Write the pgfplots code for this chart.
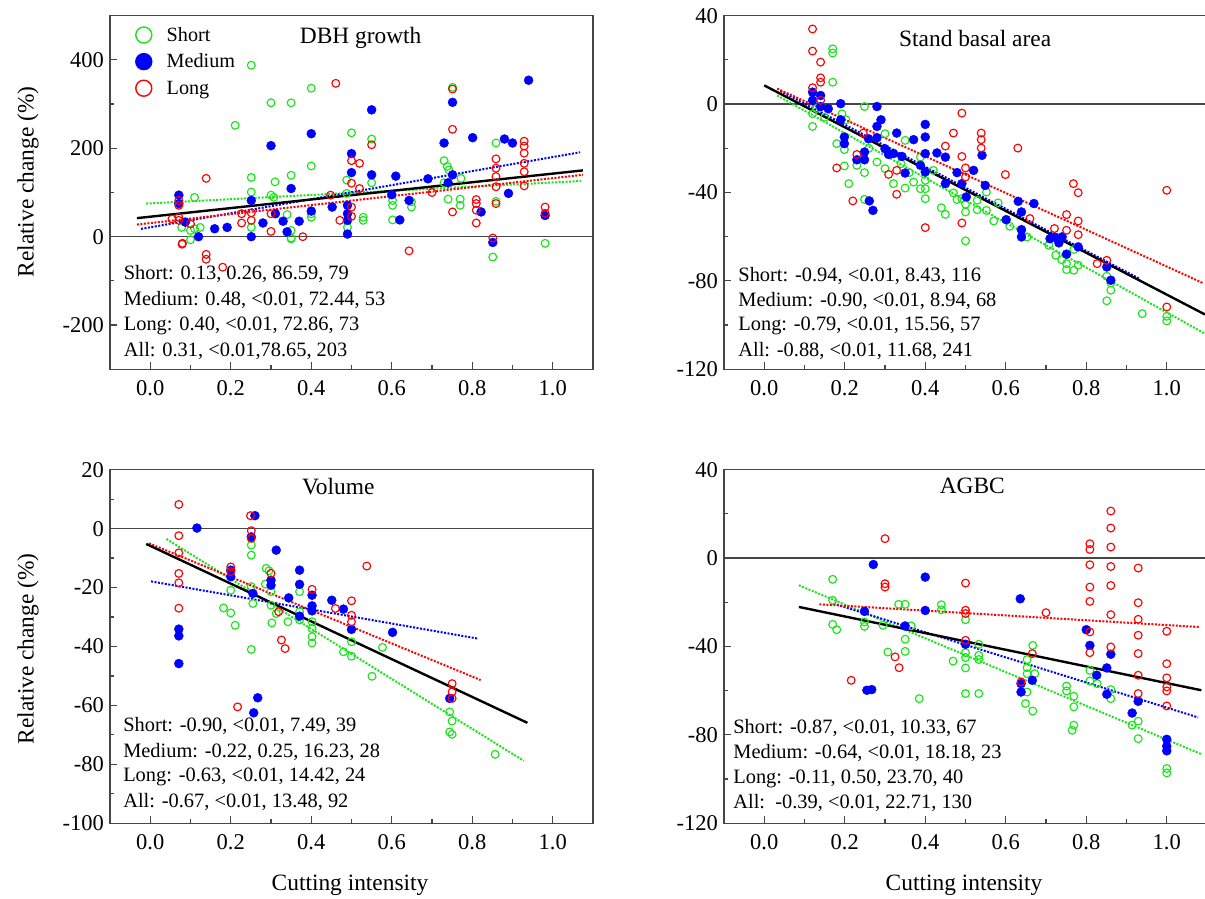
\documentclass[border=0pt]{standalone}
\usepackage{fontspec}
\setmainfont{Liberation Serif}
\usepackage{pgfplots}
\pgfplotsset{compat=1.18}
\definecolor{sg}{RGB}{25,230,25}
\definecolor{fr}{RGB}{70,70,70}
\newcommand{\tck}{\fontsize{22.5bp}{26bp}\selectfont}
\newcommand{\ann}{\fontsize{20.4bp}{24bp}\selectfont}
\newcommand{\ttl}{\fontsize{23.4bp}{27bp}\selectfont}
\newcommand{\lab}{\fontsize{23.4bp}{27bp}\selectfont}
\newcommand{\leg}{\fontsize{20.2bp}{24bp}\selectfont}
\pgfplotsset{
  panel/.style={
    scale only axis, width=483bp, height=353.6bp, anchor=south west,
    xmin=-0.1, xmax=1.1,
    xtick={0,0.2,0.4,0.6,0.8,1.0},
    xticklabels={0.0,0.2,0.4,0.6,0.8,1.0},
    minor x tick num=1, minor y tick num=1,
    tick pos=left, tick align=inside,
    major tick length=7bp, minor tick length=4bp,
    axis line style={line width=1.4bp, draw=fr},
    every tick/.style={line width=1.2bp, fr},
    tick label style={font=\tck},
    xticklabel style={yshift=-8bp},
    yticklabel style={xshift=-2.5bp},
    label style={font=\lab},
  },
  sh/.style={only marks, mark=o, mark size=3.9bp, color=sg, mark options={line width=1.15bp}},
  me/.style={only marks, mark=*, mark size=4.5bp, color=blue},
  lo/.style={only marks, mark=o, mark size=3.9bp, color=red, mark options={line width=1.15bp}},
  fsh/.style={forget plot, sg, line width=2bp, dash pattern=on 2bp off 1.5bp},
  fme/.style={forget plot, blue, line width=2bp, dash pattern=on 2bp off 1.5bp},
  flo/.style={forget plot, red, line width=2bp, dash pattern=on 2bp off 1.5bp},
  fall/.style={forget plot, black, line width=2.4bp},
  zl/.style={forget plot, fr, line width=1.4bp},
}
\begin{document}
\begin{tikzpicture}
\useasboundingbox (0,0) rectangle (1205bp,899bp);
% ---------------- DBH growth ----------------
\begin{axis}[panel, at={(110bp,529.7bp)},
  ymin=-300, ymax=500, ytick={-200,0,200,400}, yticklabels={-200,0,200,400},
  ylabel={Relative change (\%)},
  ylabel style={at={(axis description cs:-0.1698,0.5297)}, anchor=center},
  legend cell align=left,
  legend style={at={(axis description cs:0.0534,0.968)}, anchor=north west,
    draw=none, fill=none, inner sep=0pt, outer sep=0pt, row sep=10.6bp,
    column sep=14.9bp, font=\leg, nodes={inner sep=0pt}},
  legend image code/.code={\draw[#1, mark size=8bp, mark options={line width=1.4bp}] plot coordinates {(0bp,0bp)};},
]
\addplot[zl] coordinates {(-0.1,0) (1.1,0)};
\addplot[sh] coordinates {(0.251,388) (0.211,252) (0.300,303) (0.350,303) (0.400,336) (0.400,160) (0.251,134) (0.350,139) (0.310,124) (0.251,101) (0.110,89) (0.300,94) (0.307,89) (0.078,21) (0.100,14) (0.110,18) (0.251,21) (0.340,50) (0.350,14) (0.350,-5) (0.100,-7) (0.400,44) (0.400,52) (0.124,21) (0.500,235) (0.550,221) (0.550,122) (0.488,128) (0.488,98) (0.751,338) (0.730,172) (0.738,159) (0.742,151) (0.730,122) (0.772,132) (0.740,85) (0.770,85) (0.770,71) (0.602,82) (0.602,71) (0.649,79) (0.649,67) (0.529,44) (0.529,37) (0.602,38) (0.859,212) (0.859,80) (0.490,21) (0.981,-15) (0.851,-46) (0.350,-3)};
\addlegendentry{Short}
\addplot[me] coordinates {(0.071,94) (0.071,75) (0.087,33) (0.120,0) (0.160,18) (0.191,21) (0.251,82) (0.251,0) (0.280,31) (0.300,206) (0.311,52) (0.330,35) (0.340,11) (0.350,109) (0.370,35) (0.400,233) (0.400,58) (0.452,67) (0.500,188) (0.500,145) (0.490,71) (0.490,52) (0.490,37) (0.490,6) (0.550,287) (0.550,140) (0.610,137) (0.600,95) (0.643,82) (0.620,38) (0.690,131) (0.730,212) (0.751,304) (0.751,140) (0.740,122) (0.801,224) (0.880,221) (0.900,212) (0.940,354) (0.890,98) (0.822,56) (0.851,-13) (0.981,48)};
\addlegendentry{Medium}
\addplot[lo] coordinates {(0.461,347) (0.139,132) (0.071,82) (0.071,71) (0.071,44) (0.071,37) (0.100,29) (0.079,-17) (0.139,-40) (0.139,-51) (0.227,52) (0.227,31) (0.251,54) (0.251,37) (0.300,52) (0.300,12) (0.379,0) (0.448,94) (0.471,37) (0.054,40) (0.180,-69) (0.643,-32) (0.751,334) (0.751,243) (0.550,208) (0.500,172) (0.520,166) (0.500,121) (0.500,67) (0.500,46) (0.520,109) (0.700,100) (0.751,56) (0.810,84) (0.810,75) (0.810,60) (0.810,31) (0.859,176) (0.859,155) (0.859,136) (0.859,113) (0.859,75) (0.929,216) (0.929,205) (0.929,189) (0.929,166) (0.929,147) (0.929,115) (0.981,67) (0.981,53) (0.851,-3) (0.080,-15)};
\addlegendentry{Long}
\addplot[fsh] coordinates {(-0.01,75) (1.07,126)};
\addplot[fme] coordinates {(-0.023,17.6) (1.068,191)};
\addplot[flo] coordinates {(-0.033,27.5) (1.075,140)};
\addplot[fall] coordinates {(-0.033,42) (1.075,150)};
\node[font=\ttl] at (rel axis cs:0.519,0.936) {DBH growth};
\node[anchor=west, inner sep=0pt, font=\ann] at (axis cs:-0.066,-85.5) {Short: 0.13, 0.26, 86.59, 79};
\node[anchor=west, inner sep=0pt, font=\ann] at (axis cs:-0.066,-142.7) {Medium: 0.48, <0.01, 72.44, 53};
\node[anchor=west, inner sep=0pt, font=\ann] at (axis cs:-0.066,-201.6) {Long: 0.40, <0.01, 72.86, 73};
\node[anchor=west, inner sep=0pt, font=\ann] at (axis cs:-0.066,-258.2) {All: 0.31, <0.01,78.65, 203};
\end{axis}
% ---------------- Stand basal area ----------------
\begin{axis}[panel, at={(724bp,529.7bp)},
  ymin=-120, ymax=40, ytick={-120,-80,-40,0,40}, yticklabels={-120,-80,-40,0,40},
]
\addplot[zl] coordinates {(-0.1,0) (1.1,0)};
\addplot[sh] coordinates {(0.170,25.0) (0.170,23.1) (0.170,9.9) (0.120,-4.4) (0.120,-10.1) (0.193,-4.4) (0.203,-7.1) (0.180,-17.9) (0.199,-20.6) (0.199,-28.0) (0.210,-36.0) (0.249,-1.1) (0.249,-31.0) (0.249,-43.1) (0.230,-27.7) (0.280,-26.2) (0.300,-13.4) (0.300,-29.2) (0.321,-36.0) (0.350,-16.4) (0.350,-38.0) (0.371,-35.3) (0.388,-24.0) (0.400,-34.5) (0.400,-38.3) (0.400,-42.8) (0.388,-38.3) (0.440,-46.9) (0.450,-49.9) (0.470,-40.2) (0.479,-43.2) (0.491,-42.8) (0.500,-45.3) (0.500,-48.8) (0.500,-61.9) (0.529,-43.5) (0.529,-47.8) (0.552,-39.8) (0.552,-48.1) (0.570,-52.9) (0.581,-44.7) (0.610,-55.3) (0.653,-60.1) (0.639,-57.1) (0.707,-63.9) (0.724,-68.4) (0.739,-70.4) (0.751,-72.2) (0.751,-74.9) (0.769,-75.2) (0.780,-72.9) (0.769,-65.8) (0.851,-77.9) (0.851,-89.0) (0.861,-80.9) (0.861,-84.2) (0.939,-94.8) (1.000,-96.0) (1.000,-98.1) (0.130,-2) (0.150,-6) (0.260,-20) (0.320,-22) (0.340,-27) (0.360,-31) (0.420,-30)};
\addplot[me] coordinates {(0.120,5.4) (0.120,1.7) (0.140,3.9) (0.159,-2.1) (0.140,-1.1) (0.190,0.2) (0.190,-7.1) (0.199,-14.9) (0.199,-17.9) (0.230,-25.2) (0.249,-21.7) (0.249,-25.2) (0.259,-15.7) (0.280,-1.1) (0.280,-10.1) (0.290,-7.1) (0.280,-15.2) (0.300,-20.2) (0.309,-22.8) (0.321,-22.4) (0.329,-13.1) (0.342,-23.7) (0.350,-31.2) (0.371,-16.1) (0.400,-9.2) (0.400,-14.9) (0.400,-22.4) (0.388,-27.7) (0.400,-30.7) (0.429,-22.1) (0.450,-24.0) (0.450,-36.0) (0.479,-31.0) (0.491,-36.0) (0.502,-42.0) (0.520,-30.0) (0.541,-23.2) (0.549,-36.8) (0.261,-43.8) (0.270,-48.1) (0.601,-52.3) (0.631,-44.0) (0.639,-48.8) (0.639,-56.8) (0.639,-60.1) (0.670,-45.0) (0.710,-60.9) (0.721,-60.1) (0.732,-62.8) (0.740,-60.1) (0.751,-67.9) (0.780,-64.6) (0.851,-73.7) (0.861,-79.7)};
\addplot[lo] coordinates {(0.120,34.0) (0.120,24.0) (0.140,19.0) (0.140,11.9) (0.140,9.9) (0.120,7.4) (0.140,1.7) (0.491,-4.1) (0.470,-13.1) (0.539,-13.1) (0.539,-16.1) (0.539,-19.9) (0.450,-19.0) (0.630,-19.9) (0.491,-23.7) (0.500,-28.9) (0.500,-33) (0.180,-28.9) (0.230,-22.8) (0.246,-13.1) (0.309,-31.8) (0.329,-30) (0.329,-40.8) (0.220,-43.8) (0.400,-55.9) (0.491,-53.8) (0.599,-31.9) (0.660,-51.8) (0.768,-36.0) (0.780,-40.1) (0.751,-50.0) (0.780,-52.9) (0.780,-59.1) (0.721,-56.3) (0.751,-57.1) (0.827,-72.2) (0.851,-70.7) (1.000,-39.0) (1.000,-91.8)};
\addplot[fsh] coordinates {(0.032,3.9) (1.094,-103.8)};
\addplot[fme] coordinates {(0.04,5.9) (0.931,-78.9)};
\addplot[flo] coordinates {(0.032,7.0) (1.089,-80.9)};
\addplot[fall] coordinates {(0.0,8.45) (1.095,-95.2)};
\node[font=\ttl] at (rel axis cs:0.52,0.936) {Stand basal area};
\node[anchor=west, inner sep=0pt, font=\ann] at (axis cs:-0.0647,-77.9) {Short: -0.94, <0.01, 8.43, 116};
\node[anchor=west, inner sep=0pt, font=\ann] at (axis cs:-0.0647,-89.2) {Medium: -0.90, <0.01, 8.94, 68};
\node[anchor=west, inner sep=0pt, font=\ann] at (axis cs:-0.0647,-100.5) {Long: -0.79, <0.01, 15.56, 57};
\node[anchor=west, inner sep=0pt, font=\ann] at (axis cs:-0.0647,-111.8) {All: -0.88, <0.01, 11.68, 241};
\end{axis}
% ---------------- Volume ----------------
\begin{axis}[panel, at={(110bp,75.7bp)},
  ymin=-100, ymax=20, ytick={-100,-80,-60,-40,-20,0,20}, yticklabels={-100,-80,-60,-40,-20,0,20},
  ylabel={Relative change (\%)},
  ylabel style={at={(axis description cs:-0.1698,0.4934)}, anchor=center},
  xlabel={Cutting intensity},
  xlabel style={at={(axis description cs:0.497,-0.1746)}, anchor=center},
]
\addplot[zl] coordinates {(-0.1,0) (1.1,0)};
\addplot[sh] coordinates {(0.251,-5.6) (0.251,-9.0) (0.251,-19.7) (0.255,-25.4) (0.251,-41.0) (0.200,-20.9) (0.200,-28.6) (0.182,-26.9) (0.211,-32.8) (0.288,-13.5) (0.295,-14.3) (0.286,-18.8) (0.300,-21.4) (0.300,-26.0) (0.302,-32.0) (0.313,-28.8) (0.342,-31.6) (0.371,-21.4) (0.371,-28.2) (0.371,-31.0) (0.402,-31.6) (0.402,-33.9) (0.402,-36.7) (0.402,-38.8) (0.480,-41.8) (0.500,-38.4) (0.500,-43.3) (0.577,-40.3) (0.551,-50.1) (0.744,-62.2) (0.750,-65.3) (0.744,-69.0) (0.750,-69.8) (0.857,-76.6)};
\addplot[me] coordinates {(0.116,0.2) (0.260,4.4) (0.251,-2.8) (0.313,-7.3) (0.200,-14.1) (0.200,-16.3) (0.255,-22.0) (0.300,-17.5) (0.300,-19.2) (0.371,-14.1) (0.371,-18.9) (0.344,-23.5) (0.371,-29.7) (0.402,-22.6) (0.402,-26.2) (0.402,-27.9) (0.451,-24.3) (0.480,-27.3) (0.500,-34.2) (0.602,-35.2) (0.071,-34.1) (0.071,-36.4) (0.071,-45.8) (0.267,-57.4) (0.257,-62.5) (0.744,-57.6)};
\addplot[lo] coordinates {(0.071,8.2) (0.071,-2.4) (0.071,-8.2) (0.071,-15.2) (0.071,-18.4) (0.071,-27.0) (0.249,4.4) (0.251,-0.7) (0.251,-3.3) (0.200,-13.0) (0.200,-14.6) (0.300,-15.2) (0.319,-28.2) (0.326,-37.8) (0.335,-40.7) (0.402,-20.6) (0.460,-27.1) (0.500,-24.5) (0.500,-29.4) (0.500,-31.6) (0.538,-12.7) (0.217,-60.5) (0.750,-52.6) (0.750,-55.4) (0.750,-57.6)};
\addplot[fsh] coordinates {(0.04,-3.5) (0.928,-78.8)};
\addplot[fme] coordinates {(0.002,-17.9) (0.813,-37.3)};
\addplot[flo] coordinates {(-0.003,-5.0) (0.821,-51.4)};
\addplot[fall] coordinates {(-0.01,-5.2) (0.937,-65.9)};
\node[font=\ttl] at (rel axis cs:0.4725,0.953) {Volume};
\node[anchor=west, inner sep=0pt, font=\ann] at (axis cs:-0.0675,-67.1) {Short: -0.90, <0.01, 7.49, 39};
\node[anchor=west, inner sep=0pt, font=\ann] at (axis cs:-0.0675,-75.8) {Medium: -0.22, 0.25, 16.23, 28};
\node[anchor=west, inner sep=0pt, font=\ann] at (axis cs:-0.0675,-84.3) {Long: -0.63, <0.01, 14.42, 24};
\node[anchor=west, inner sep=0pt, font=\ann] at (axis cs:-0.0675,-92.8) {All: -0.67, <0.01, 13.48, 92};
\end{axis}
% ---------------- AGBC ----------------
\begin{axis}[panel, at={(724bp,75.7bp)},
  ymin=-120, ymax=40, ytick={-120,-80,-40,0,40}, yticklabels={-120,-80,-40,0,40},
  xlabel={Cutting intensity},
  xlabel style={at={(axis description cs:0.497,-0.1746)}, anchor=center},
]
\addplot[zl] coordinates {(-0.1,0) (1.1,0)};
\addplot[sh] coordinates {(0.170,-9.6) (0.170,-19.1) (0.170,-30.0) (0.180,-32.4) (0.249,-28.9) (0.249,-30.9) (0.295,-30.4) (0.307,-42.5) (0.334,-20.9) (0.350,-20.9) (0.350,-36.7) (0.350,-42.2) (0.365,-30.7) (0.385,-63.6) (0.440,-21.1) (0.440,-23.4) (0.469,-46.6) (0.500,-27.9) (0.500,-42.8) (0.500,-45.0) (0.500,-49.7) (0.500,-61.3) (0.533,-39.0) (0.533,-44.0) (0.533,-45.9) (0.533,-61.3) (0.653,-45.9) (0.653,-49.6) (0.653,-52.3) (0.653,-60.6) (0.649,-65.8) (0.667,-39.5) (0.667,-69.2) (0.672,-52.3) (0.751,-57.9) (0.751,-60.1) (0.769,-62.5) (0.769,-67.3) (0.769,-75.6) (0.765,-77.9) (0.809,-50.8) (0.809,-55.6) (0.827,-56.8) (0.861,-59.5) (0.861,-63.6) (0.914,-75.6) (0.929,-73.8) (0.929,-81.7) (1.000,-95.2) (1.000,-97.2)};
\addplot[me] coordinates {(0.271,-2.9) (0.400,-8.6) (0.636,-18.4) (0.249,-24.1) (0.350,-30.7) (0.400,-23.7) (0.500,-39.0) (0.255,-59.8) (0.267,-59.5) (0.638,-56.8) (0.638,-60.6) (0.666,-55.3) (0.800,-32.4) (0.809,-39.5) (0.861,-43.5) (0.826,-53.0) (0.851,-49.7) (0.851,-61.6) (0.929,-64.8) (0.914,-70.1) (1.000,-82.0) (1.000,-85.1) (1.000,-87.2)};
\addplot[lo] coordinates {(0.300,8.8) (0.300,-11.6) (0.300,-13.1) (0.325,-44.7) (0.335,-49.6) (0.216,-55.3) (0.500,-11.3) (0.500,-23.6) (0.500,-25.1) (0.500,-37.2) (0.666,-43.2) (0.638,-56.0) (0.700,-24.7) (0.809,6.5) (0.809,3.9) (0.809,-3.0) (0.809,-13.1) (0.809,-19.6) (0.809,-33.4) (0.809,-42.8) (0.861,21.3) (0.861,13.6) (0.861,5.0) (0.861,-3.8) (0.861,-12.4) (0.861,-25.6) (0.861,-40.2) (0.929,-4.5) (0.929,-20.2) (0.929,-27.7) (0.929,-34.9) (0.929,-43.2) (0.929,-53.0) (0.929,-61.3) (1.000,-33.1) (1.000,-47.8) (1.000,-54.2) (1.000,-58.3) (1.000,-60.1) (1.000,-66.9)};
\addplot[fsh] coordinates {(0.086,-12.3) (1.086,-88.7)};
\addplot[fme] coordinates {(0.172,-20.6) (1.078,-72.1)};
\addplot[flo] coordinates {(0.137,-20.9) (1.082,-31.2)};
\addplot[fall] coordinates {(0.086,-22.1) (1.086,-59.8)};
\node[font=\ttl] at (rel axis cs:0.514,0.954) {AGBC};
\node[anchor=west, inner sep=0pt, font=\ann] at (axis cs:-0.0772,-77.1) {Short: -0.87, <0.01, 10.33, 67};
\node[anchor=west, inner sep=0pt, font=\ann] at (axis cs:-0.0772,-88.4) {Medium: -0.64, <0.01, 18.18, 23};
\node[anchor=west, inner sep=0pt, font=\ann] at (axis cs:-0.0772,-99.7) {Long: -0.11, 0.50, 23.70, 40};
\node[anchor=west, inner sep=0pt, font=\ann] at (axis cs:-0.0772,-111.0) {All:\ \ -0.39, <0.01, 22.71, 130};
\end{axis}
\end{tikzpicture}
\end{document}
